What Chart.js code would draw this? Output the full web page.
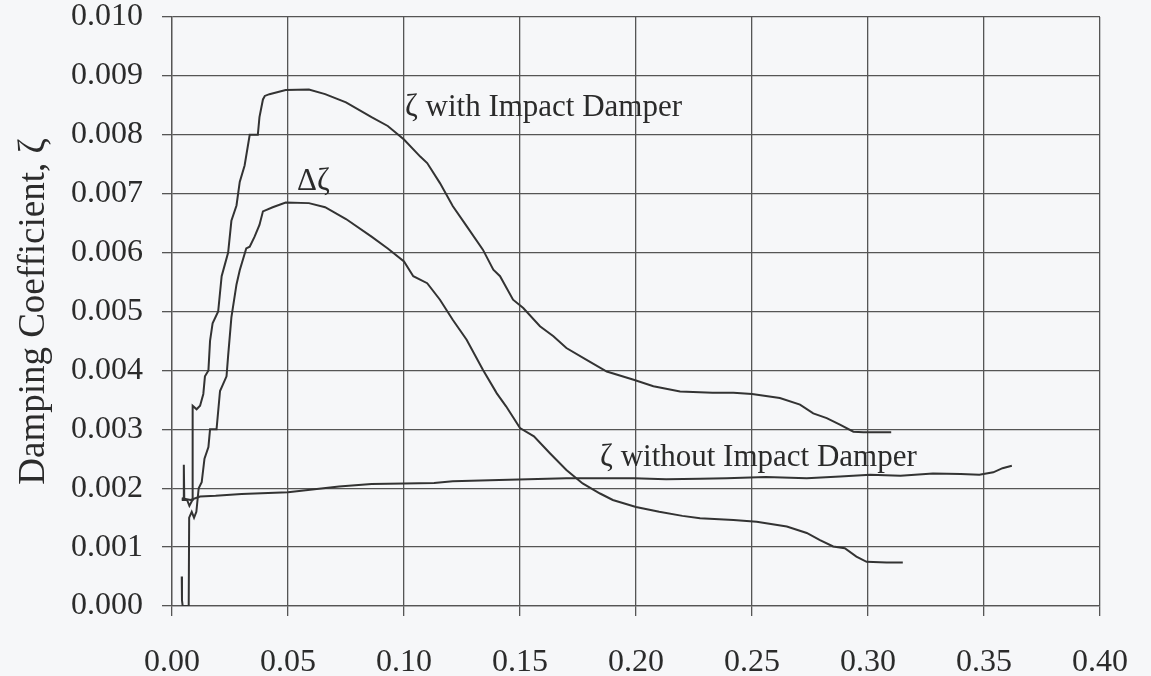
<!DOCTYPE html>
<html>
<head>
<meta charset="utf-8">
<script src="https://cdn.jsdelivr.net/npm/chart.js@4"></script>
<style>
  html, body { margin: 0; padding: 0; background: #f6f7f9; }
  #wrap { width: 1151px; height: 676px; }
</style>
</head>
<body>
<div id="wrap"><canvas id="dampChart" width="1151" height="676"></canvas></div>
<script>
// tick values
const xTicks = [0, 0.05, 0.10, 0.15, 0.20, 0.25, 0.30, 0.35, 0.40];
const yTicks = [0, 0.001, 0.002, 0.003, 0.004, 0.005, 0.006, 0.007, 0.008, 0.009, 0.010];

// zeta with impact damper
const withX = [0.0042, 0.0050, 0.0051, 0.0053, 0.0065, 0.0075, 0.0088, 0.0089, 0.0106, 0.0121, 0.0135, 0.0142,
  0.0157, 0.0164, 0.0175, 0.0199, 0.0214, 0.0228, 0.0242, 0.0256, 0.0278, 0.0292, 0.0313, 0.0335, 0.0370,
  0.0377, 0.0392, 0.0400, 0.0420, 0.0490, 0.0590, 0.0660, 0.0750, 0.0860, 0.0930, 0.1000, 0.1070, 0.1100,
  0.1155, 0.1210, 0.1270, 0.1340, 0.1385, 0.1414, 0.1470, 0.1514, 0.1586, 0.1644, 0.1700, 0.1787, 0.1874,
  0.1990, 0.2075, 0.2190, 0.2330, 0.2420, 0.2500, 0.2620, 0.2707, 0.2764, 0.2822, 0.2879, 0.2937, 0.2980, 0.3100];
const withY = [0.00180, 0.00180, 0.00240, 0.00180, 0.00180, 0.00170, 0.00180, 0.00340, 0.00334, 0.00340, 0.00360, 0.00390,
  0.00400, 0.00450, 0.00480, 0.00500, 0.00560, 0.00580, 0.00600, 0.00654, 0.00680, 0.00720, 0.00748, 0.00800, 0.00800,
  0.00830, 0.00860, 0.00866, 0.00869, 0.00876, 0.00877, 0.00869, 0.00855, 0.00830, 0.00815, 0.00792, 0.00763, 0.00752,
  0.00718, 0.00679, 0.00645, 0.00605, 0.00571, 0.00560, 0.00520, 0.00506, 0.00475, 0.00458, 0.00438, 0.00418, 0.00398,
  0.00384, 0.00373, 0.00364, 0.00362, 0.00362, 0.00360, 0.00353, 0.00342, 0.00327, 0.00319, 0.00308, 0.00296, 0.00295, 0.00295];

// delta zeta
const deltaX = [0.0042, 0.0043, 0.0046, 0.0072, 0.0074, 0.0085, 0.0095, 0.0105, 0.0115, 0.0128, 0.0140, 0.0157,
  0.0164, 0.0192, 0.0207, 0.0235, 0.0242, 0.0256, 0.0278, 0.0292, 0.0320, 0.0335, 0.0356, 0.0377, 0.0392,
  0.0434, 0.0490, 0.0590, 0.0660, 0.0750, 0.0860, 0.0930, 0.1000, 0.1040, 0.1100, 0.1155, 0.1210, 0.1270,
  0.1340, 0.1400, 0.1440, 0.1500, 0.1560, 0.1630, 0.1700, 0.1770, 0.1845, 0.1900, 0.2000, 0.2100, 0.2200,
  0.2276, 0.2420, 0.2520, 0.2650, 0.2736, 0.2793, 0.2850, 0.2900, 0.2950, 0.2994, 0.3080, 0.3150];
const deltaY = [0.00050, 0.00010, 0.00000, 0.00000, 0.00150, 0.00160, 0.00150, 0.00160, 0.00200, 0.00210, 0.00250, 0.00270,
  0.00300, 0.00300, 0.00365, 0.00390, 0.00425, 0.00490, 0.00546, 0.00570, 0.00607, 0.00610, 0.00627, 0.00647, 0.00670,
  0.00677, 0.00685, 0.00684, 0.00677, 0.00657, 0.00627, 0.00607, 0.00585, 0.00560, 0.00548, 0.00520, 0.00486, 0.00452,
  0.00401, 0.00361, 0.00339, 0.00302, 0.00288, 0.00259, 0.00231, 0.00208, 0.00191, 0.00180, 0.00168, 0.00160, 0.00153,
  0.00149, 0.00146, 0.00143, 0.00135, 0.00124, 0.00112, 0.00101, 0.00098, 0.00084, 0.00075, 0.00074, 0.00074];

// zeta without impact damper
const withoutX = [0.0042, 0.0080, 0.0121, 0.0188, 0.0300, 0.0500, 0.0720, 0.0860, 0.1000, 0.1130, 0.1210, 0.1410,
  0.1700, 0.1990, 0.2130, 0.2276, 0.2390, 0.2560, 0.2736, 0.2880, 0.3010, 0.3140, 0.3280, 0.3400, 0.3480,
  0.3540, 0.3580, 0.3620];
const withoutY = [0.00183, 0.00180, 0.00186, 0.00187, 0.00190, 0.00193, 0.00203, 0.00207, 0.00208, 0.00209, 0.00212, 0.00214,
  0.00217, 0.00217, 0.00215, 0.00216, 0.00217, 0.00219, 0.00217, 0.00220, 0.00223, 0.00221, 0.00225, 0.00224, 0.00223,
  0.00227, 0.00234, 0.00238];

// curve labels (text, x, y at left-middle of text)
const curveLabels = ['ζ with Impact Damper', 'Δζ', 'ζ without Impact Damper'];
const labelX = [0.1004, 0.0539, 0.1845];
const labelY = [0.00845, 0.00720, 0.00252];

function toPoints(xs, ys) {
    return xs.map((x, i) => ({ x: x, y: ys[i] }));
}

const serif = '"Liberation Serif", "Times New Roman", serif';
const ink = '#2b2b2b';
const gridColor = '#555555';

const curveText = {
    id: 'curveText',
    afterDatasetsDraw(chart) {
        const ctx = chart.ctx;
        const xs = chart.scales.x, ys = chart.scales.y;
        ctx.save();
        ctx.font = '31px ' + serif;
        ctx.fillStyle = ink;
        ctx.textAlign = 'left';
        ctx.textBaseline = 'middle';
        curveLabels.forEach((t, i) => {
            ctx.fillText(t, xs.getPixelForValue(labelX[i]), ys.getPixelForValue(labelY[i]));
        });
        ctx.restore();
    }
};

const lineStyle = {
    showLine: true,
    borderColor: '#333333',
    borderWidth: 2,
    pointRadius: 0,
    tension: 0,
    fill: false
};

new Chart(document.getElementById('dampChart'), {
    type: 'scatter',
    data: {
        datasets: [
            Object.assign({ label: 'ζ with Impact Damper', data: toPoints(withX, withY) }, lineStyle),
            Object.assign({ label: 'Δζ', data: toPoints(deltaX, deltaY) }, lineStyle),
            Object.assign({ label: 'ζ without Impact Damper', data: toPoints(withoutX, withoutY) }, lineStyle)
        ]
    },
    options: {
        responsive: false,
        animation: false,
        layout: { padding: { left: 0, right: 51, top: 17, bottom: 0 } },
        plugins: {
            legend: { display: false },
            tooltip: { enabled: false }
        },
        scales: {
            x: {
                type: 'linear',
                min: 0,
                max: 0.40,
                afterBuildTicks: s => { s.ticks = xTicks.map(v => ({ value: v })); },
                afterFit: s => { s.height = 70; s.paddingLeft = 0; s.paddingRight = 0; },
                grid: { color: gridColor, lineWidth: 1.3, tickLength: 10 },
                border: { color: gridColor, width: 1.3 },
                ticks: {
                    color: ink,
                    padding: 27,
                    maxRotation: 0,
                    font: { family: serif, size: 32 },
                    callback: v => Number(v).toFixed(2)
                }
            },
            y: {
                type: 'linear',
                min: 0,
                max: 0.010,
                afterBuildTicks: s => { s.ticks = yTicks.map(v => ({ value: v })); },
                afterFit: s => { s.width = 172; s.paddingTop = 0; s.paddingBottom = 0; },
                grid: { color: gridColor, lineWidth: 1.3, tickLength: 10 },
                border: { color: gridColor, width: 1.3 },
                ticks: {
                    color: ink,
                    padding: 19,
                    font: { family: serif, size: 32 },
                    callback: v => Number(v).toFixed(3)
                },
                title: {
                    display: true,
                    text: 'Damping Coefficient, ζ',
                    color: ink,
                    font: { family: serif, size: 37 },
                    padding: { top: 12, bottom: 0 }
                }
            }
        }
    },
    plugins: [curveText]
});
</script>
</body>
</html>
